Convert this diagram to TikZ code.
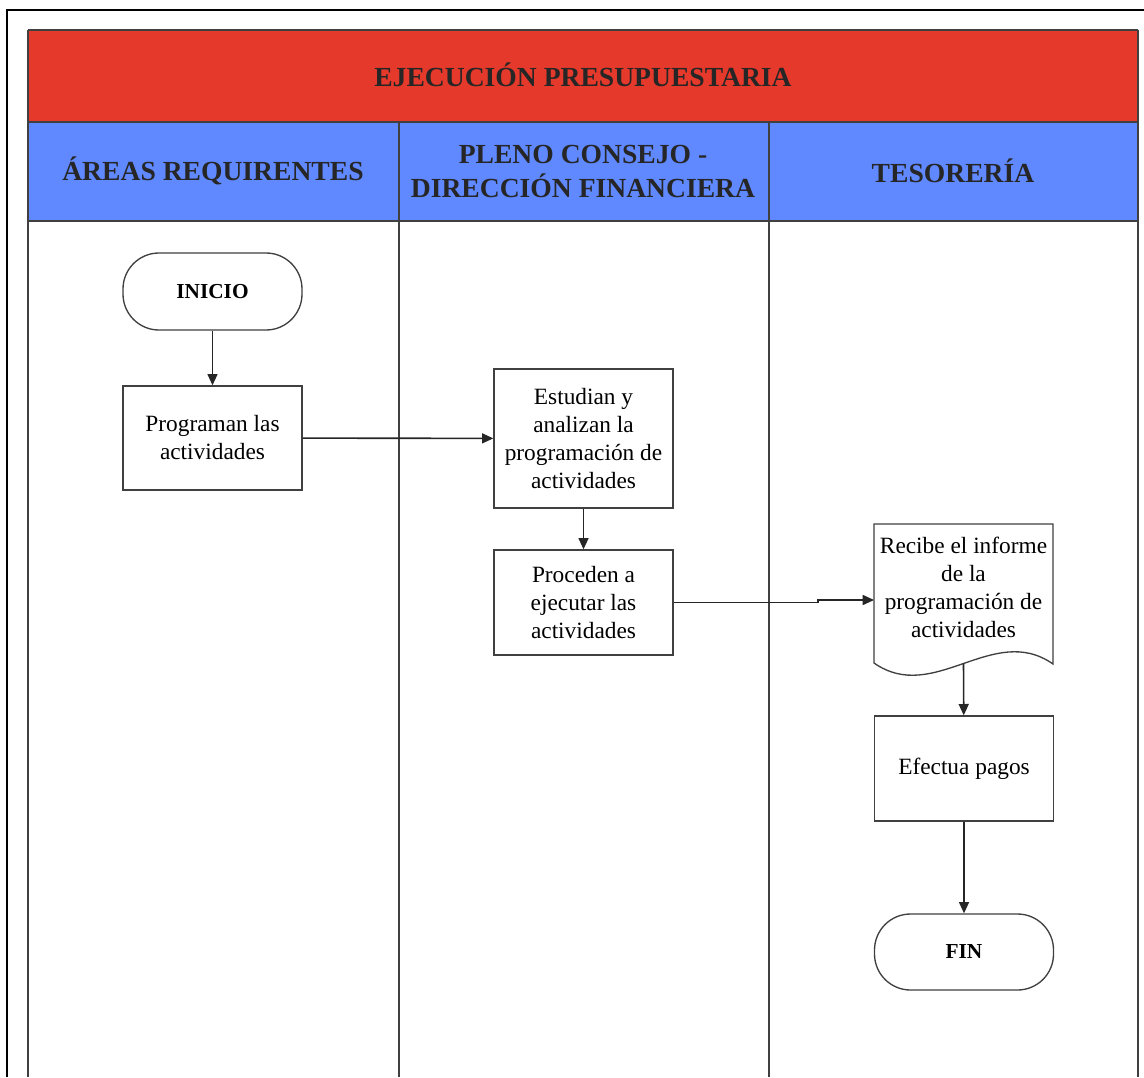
\documentclass[tikz,border=0pt]{standalone}
\usepackage{fontspec}
\setmainfont{Liberation Serif}
\usetikzlibrary{arrows.meta}
\definecolor{titlered}{RGB}{229,57,43}
\definecolor{laneblue}{RGB}{96,137,255}
\definecolor{edgegray}{RGB}{64,64,64}
\begin{document}
\begin{tikzpicture}[x=0.75pt,y=-0.75pt,
  laneline/.style={draw=edgegray, line width=1.2pt},
  procbox/.style={draw=edgegray, line width=1pt, fill=white,
    minimum width=134.25pt, align=center, inner sep=2pt,
    font=\fontsize{17.5}{21}\selectfont},
  termbox/.style={procbox, rounded corners=27pt,
    font=\bfseries\fontsize{16}{19}\selectfont},
  flow/.style={draw=black!85, line width=1.2pt,
    -{Triangle[length=8.5pt,width=7.5pt]}},
  headtxt/.style={font=\bfseries\fontsize{20.7}{25.5}\selectfont,
    align=center, text=black!85}
]
\useasboundingbox (0,0) rectangle (1144,1077);
\fill[white] (0,0) rectangle (1144,1077);

% outer frame
\draw[black, line width=1.8pt] (7,1077) -- (7,10) -- (1144,10);

% pool bands
\fill[titlered] (28,30) rectangle (1138,122);
\fill[laneblue] (28,122) rectangle (1138,221);
\draw[laneline] (28,30) -- (1138,30);
\draw[laneline] (28,122) -- (1138,122);
\draw[laneline] (28,221) -- (1138,221);
\draw[laneline] (28,30) -- (28,1077);
\draw[laneline] (1138,30) -- (1138,1077);
\draw[draw=edgegray, line width=1.8pt] (399,122) -- (399,1077);
\draw[laneline] (769,122) -- (769,1077);

% headings
\node[headtxt] (title) at (583,75) {EJECUCIÓN PRESUPUESTARIA};
\node[headtxt] (lane1) at (213,171) {ÁREAS REQUIRENTES};
\node[headtxt] (lane2) at (583,171) {PLENO CONSEJO -\\DIRECCIÓN FINANCIERA};
\node[headtxt] (lane3) at (953,171) {TESORERÍA};

% flow nodes
\node[termbox, minimum height=57.75pt] (inicio) at (212.5,291.5) {INICIO};
\node[procbox, minimum height=78pt] (prog) at (212.5,438) {Programan las\\actividades};
\node[procbox, minimum height=104.25pt] (estud) at (583.5,438.5) {Estudian y\\analizan la\\programación de\\actividades};
\node[procbox, minimum height=78.75pt] (proc) at (583.5,602.5) {Proceden a\\ejecutar las\\actividades};

% document shape with wavy bottom
\draw[draw=edgegray, line width=1pt, fill=white]
  (874,663) -- (874,524) -- (1053,524) -- (1053,664)
  .. controls (993,622) and (934,705) .. (874,663) -- cycle;
\node[align=center, font=\fontsize{17.5}{21}\selectfont, inner sep=0pt] (recibe) at (963.5,587)
  {Recibe el informe\\de la\\programación de\\actividades};
\coordinate (recin) at (874,600);
\coordinate (recout) at (963.5,663.6);
\coordinate (jog) at (818,600);

\node[procbox, minimum height=78.75pt] (pagos) at (964,768.5) {Efectua pagos};
\node[termbox, minimum height=57pt] (fin) at (964,952) {FIN};

% connectors
\draw[flow] (inicio) -- (prog);
\draw[flow] (prog) -- (estud);
\draw[flow] (estud) -- (proc);
\draw[flow] (proc.east) -| (jog) -- (recin);
\draw[flow] (recout) -- (pagos);
\draw[flow] (pagos) -- (fin);
\end{tikzpicture}
\end{document}
